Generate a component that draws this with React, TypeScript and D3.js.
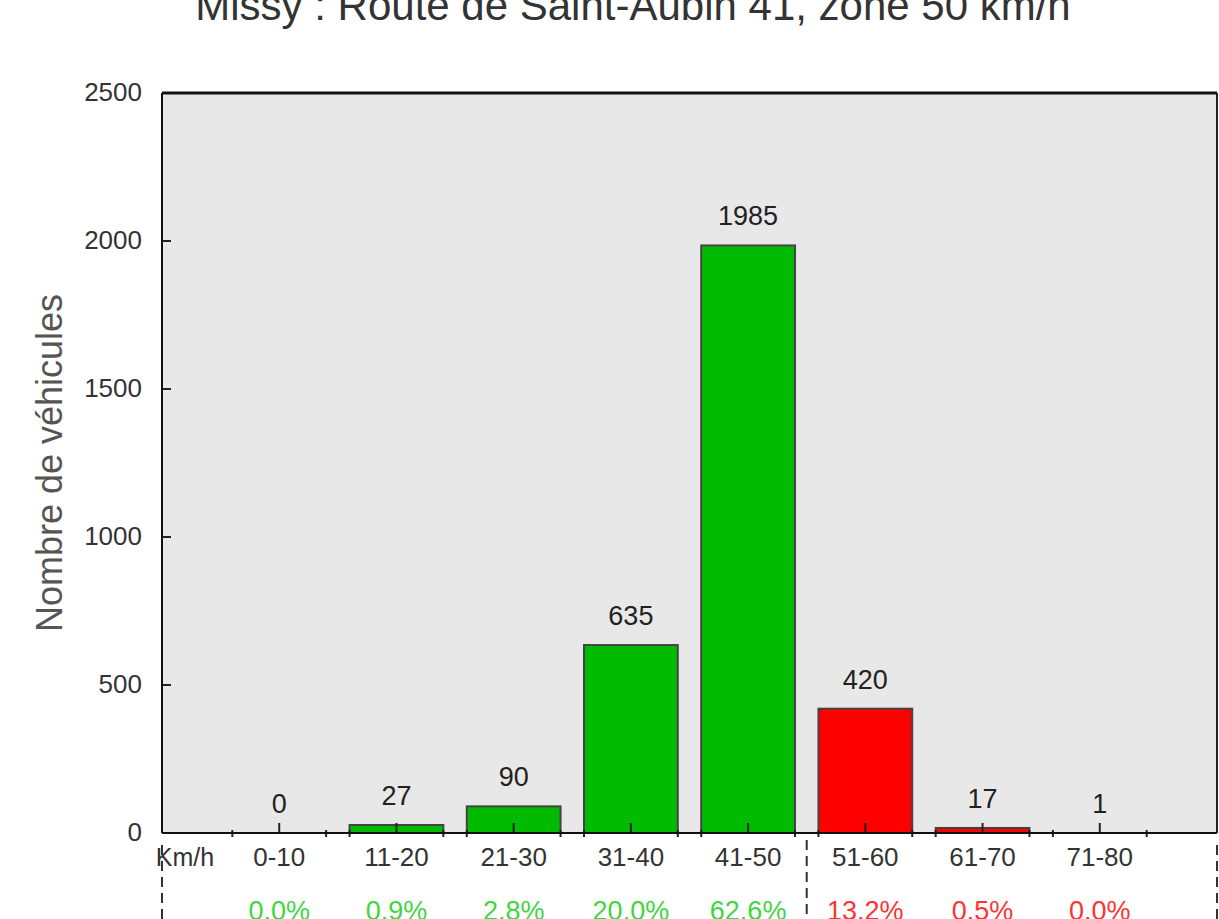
import React from "react";
import * as d3 from "d3";

const title = "Missy : Route de Saint-Aubin 41, zone 50 km/h";
const categories = ["0-10", "11-20", "21-30", "31-40", "41-50", "51-60", "61-70", "71-80"];
const counts = [0, 27, 90, 635, 1985, 420, 17, 1];
const percents = ["0.0%", "0.9%", "2.8%", "20.0%", "62.6%", "13.2%", "0.5%", "0.0%"];
const overLimit = [false, false, false, false, false, true, true, true];
const yTicks = [0, 500, 1000, 1500, 2000, 2500];
const speedLimit = 50;
const yLabel = "Nombre de véhicules";
const unitLabel = "Km/h";

const W = 1219;
const H = 919;
const left = 162;
const right = 1217;
const top = 93;
const bottom = 833;
const font = "'Liberation Sans', Arial, Helvetica, sans-serif";

export default function App() {
  const x = d3.scaleLinear().domain([-5, 85]).range([left, right]);
  const y = d3.scaleLinear().domain([0, 2500]).range([bottom, top]);
  const center = (i: number) => x(i * 10 + 5);
  const halfW = x(4) - x(0);
  const dash = "10,6";
  return (
    <svg width={W} height={H} style={{ position: "absolute", left: 0, top: 0, background: "#fff" }}>
      <text x={633} y={20} textAnchor="middle" fontFamily={font} fontSize={42} fill="#333">{title}</text>
      <rect x={left} y={top} width={right - left} height={bottom - top} fill="#e8e8e8" />
      {counts.map((v, i) => (
        <g key={i}>
          {bottom - y(v) >= 1 && (
            <rect x={center(i) - halfW} y={y(v)} width={halfW * 2} height={bottom - y(v)}
              fill={overLimit[i] ? "#ff0000" : "#00bb00"} stroke="#444" strokeWidth={2} />
          )}
          <line x1={center(i)} x2={center(i)} y1={bottom} y2={bottom - 10} stroke="#222" strokeWidth={2} />
          <line x1={center(i) - halfW} x2={center(i) - halfW} y1={bottom - 3} y2={bottom + 4} stroke="#222" strokeWidth={2} />
          <line x1={center(i) + halfW} x2={center(i) + halfW} y1={bottom - 3} y2={bottom + 4} stroke="#222" strokeWidth={2} />
          <text x={center(i)} y={y(v) - 20} textAnchor="middle" fontFamily={font} fontSize={27} fill="#222">{v}</text>
          <text x={center(i)} y={866} textAnchor="middle" fontFamily={font} fontSize={26} fill="#333">{categories[i]}</text>
          <text x={center(i)} y={920} textAnchor="middle" fontFamily={font} fontSize={27}
            fill={overLimit[i] ? "#ff3333" : "#3fd63f"}>{percents[i]}</text>
        </g>
      ))}
      {yTicks.map((t) => (
        <g key={t}>
          <line x1={left} x2={left + 9} y1={y(t)} y2={y(t)} stroke="#222" strokeWidth={2} />
          <text x={142} y={y(t) + 8} textAnchor="end" fontFamily={font} fontSize={26} fill="#333">{t}</text>
        </g>
      ))}
      <line x1={left} x2={right} y1={top} y2={top} stroke="#111" strokeWidth={3} />
      <line x1={right} x2={right} y1={top} y2={bottom} stroke="#222" strokeWidth={2} />
      <line x1={left} x2={left} y1={top} y2={bottom} stroke="#111" strokeWidth={2} />
      <line x1={left} x2={right} y1={bottom} y2={bottom} stroke="#111" strokeWidth={2} />
      <text x={185} y={866} textAnchor="middle" fontFamily={font} fontSize={25} fill="#333">{unitLabel}</text>
      <line x1={left} x2={left} y1={845} y2={H} stroke="#333" strokeWidth={2} strokeDasharray={dash} />
      <line x1={x(speedLimit)} x2={x(speedLimit)} y1={840} y2={H} stroke="#333" strokeWidth={2} strokeDasharray={dash} />
      <line x1={right} x2={right} y1={845} y2={H} stroke="#333" strokeWidth={2} strokeDasharray={dash} />
      <text transform={`translate(62,${(top + bottom) / 2}) rotate(-90)`} textAnchor="middle" fontFamily={font}
        fontSize={36} fill="#555">{yLabel}</text>
    </svg>
  );
}
